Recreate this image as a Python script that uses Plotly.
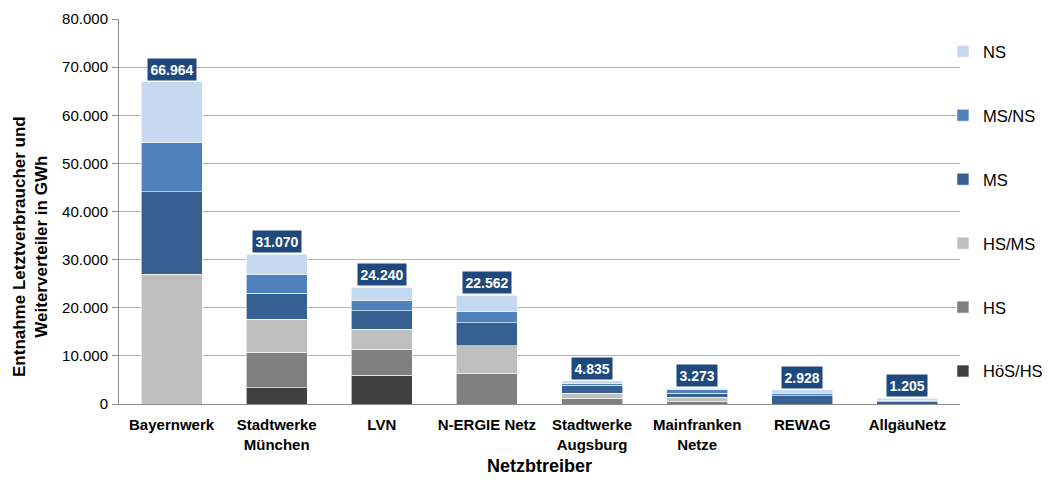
import plotly.graph_objects as go

categories = ["Bayernwerk", "Stadtwerke<br>München", "LVN", "N-ERGIE Netz",
              "Stadtwerke<br>Augsburg", "Mainfranken<br>Netze", "REWAG", "AllgäuNetz"]

hoes_hs = [0, 3400, 6000, 0, 0, 0, 0, 0]
hs = [0, 7340, 5400, 6300, 1150, 520, 0, 0]
hs_ms = [26950, 6860, 4100, 5800, 1100, 880, 0, 0]
ms = [17150, 5400, 3900, 4800, 1650, 880, 1750, 450]
ms_ns = [10200, 3900, 2200, 2400, 450, 660, 480, 300]
ns = [12664, 4170, 2640, 3262, 485, 333, 698, 455]

y_ticks = [0, 10000, 20000, 30000, 40000, 50000, 60000, 70000, 80000]

series = [
    ("HöS/HS", hoes_hs, "#404040"),
    ("HS", hs, "#808080"),
    ("HS/MS", hs_ms, "#BFBFBF"),
    ("MS", ms, "#376092"),
    ("MS/NS", ms_ns, "#4F81BD"),
    ("NS", ns, "#C6D9F1"),
]

fig = go.Figure()
n = len(series)
for i, (name, vals, col) in enumerate(series):
    fig.add_trace(go.Bar(
        x=categories, y=vals, name=name, legendgroup=name, legendrank=n - i,
        marker=dict(color=col, line=dict(color="white", width=0.6)),
    ))

totals = [sum(v) for v in zip(*[s[1] for s in series])]
for c, t in zip(categories, totals):
    fig.add_annotation(
        x=c, y=t, text="<b>" + f"{t:,}".replace(",", ".") + "</b>",
        showarrow=False, yanchor="bottom", yshift=1,
        bgcolor="#1F497D", borderpad=2.5,
        font=dict(family="Liberation Sans, Arial", size=14, color="white"),
    )

# y-axis title placed like the reference (slightly below the axis centre)
fig.add_annotation(
    xref="paper", yref="paper", x=-0.106, y=0.41,
    text="<b>Entnahme Letztverbraucher und<br>Weiterverteiler in GWh</b>",
    textangle=-90, showarrow=False, xanchor="center", yanchor="middle",
    font=dict(family="Liberation Sans, Arial", size=17, color="black"),
)

fig.update_layout(
    width=1045, height=474,
    margin=dict(l=111, r=93, t=11, b=78, autoexpand=False),
    barmode="stack", bargap=0.42,
    separators=",.",
    plot_bgcolor="white", paper_bgcolor="white",
    font=dict(family="Liberation Sans, Arial", color="black"),
    legend=dict(
        xref="container", yref="container",
        x=0.8947, xanchor="left", y=0.945, yanchor="top",
        traceorder="grouped", tracegroupgap=39.5, maxheight=470,
        font=dict(size=16.5), itemwidth=30, bgcolor="rgba(0,0,0,0)",
    ),
    xaxis=dict(
        title=dict(text="<b>Netzbtreiber</b>", font=dict(size=18), standoff=7),
        tickfont=dict(size=15), showline=True, linecolor="#8c8c8c",
        ticks="", tickprefix="<b>", ticksuffix="</b>", ticklabelstandoff=7,
    ),
    yaxis=dict(
        range=[0, 80000], tickvals=y_ticks, tickformat=",d",
        tickprefix="<b>", ticksuffix="</b>", tickfont=dict(size=15),
        showgrid=True, gridcolor="#b4b4b4", gridwidth=1,
        showline=True, linecolor="#8c8c8c", ticks="outside", ticklen=6,
        tickcolor="#8c8c8c", ticklabelstandoff=1,
    ),
)

fig.write_html("out.html")
